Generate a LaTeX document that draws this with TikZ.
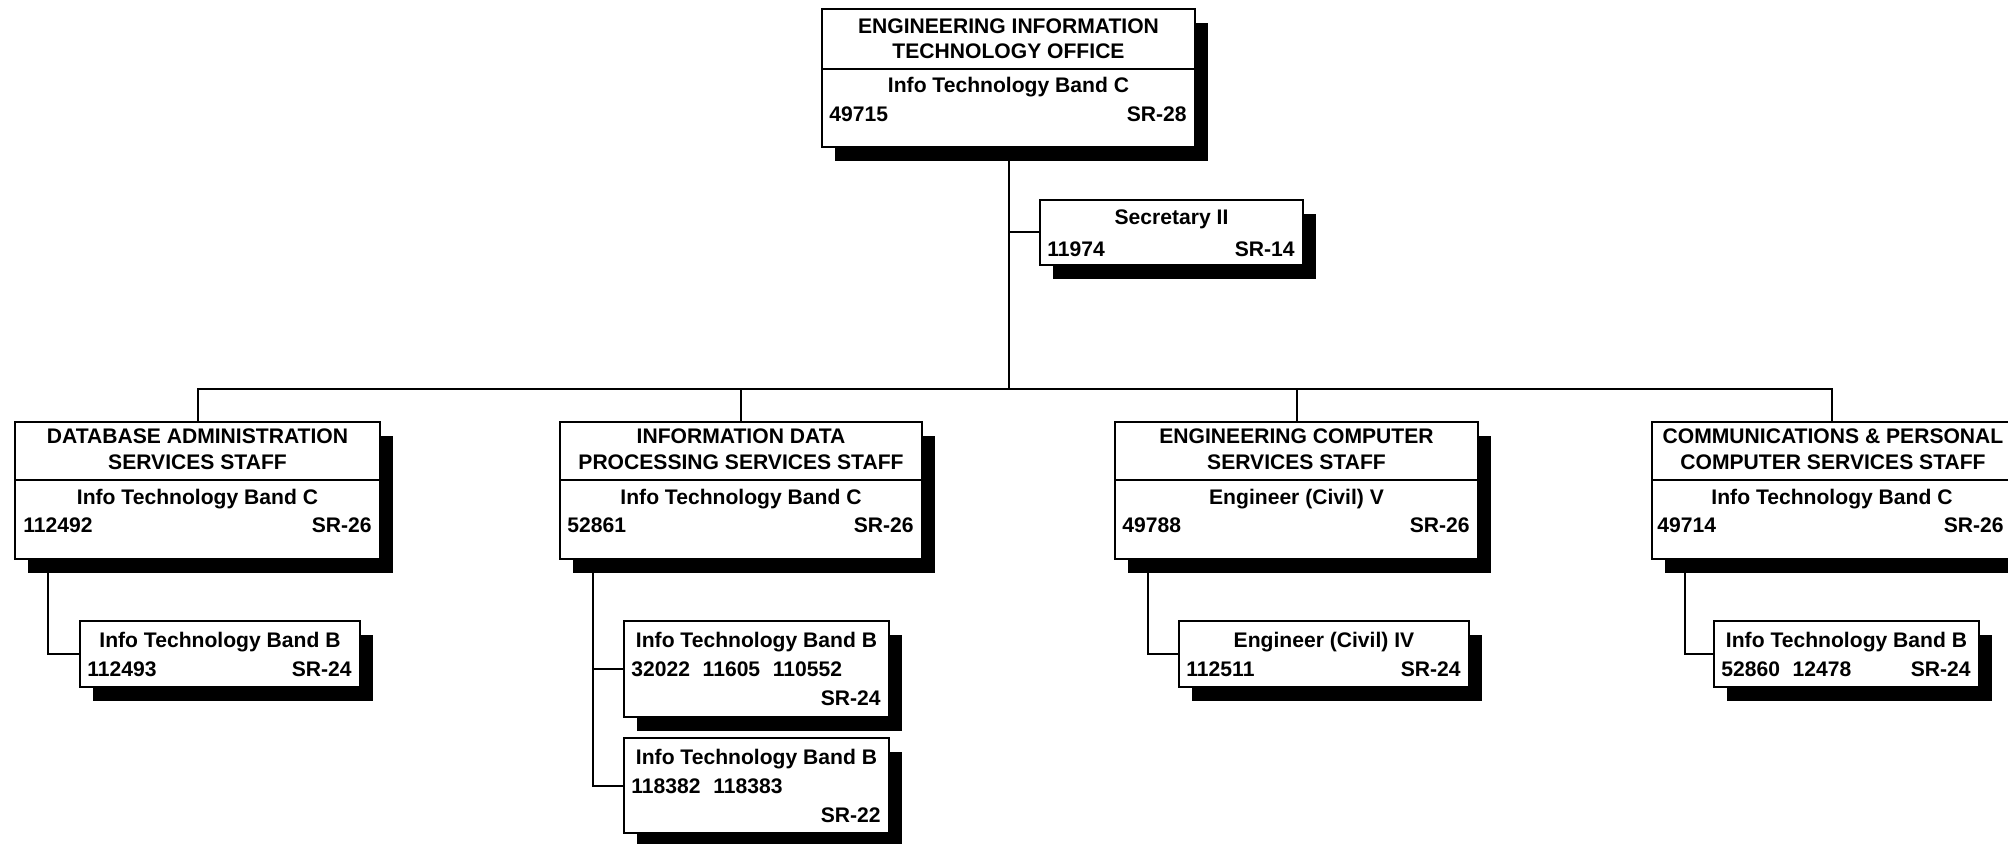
\documentclass[tikz,border=0pt]{standalone}
\usepackage{fontspec}
\setmainfont{Liberation Sans}
\usetikzlibrary{shadows}

\begin{document}
\begin{tikzpicture}[x=0.5pt, y=-0.5pt, line join=miter,
    font=\fontsize{10.55}{12}\selectfont\bfseries,
    post/.style={draw, line width=1pt, fill=white, inner sep=0pt,
      drop shadow={shadow xshift=6.5pt, shadow yshift=-7pt, fill=black, opacity=1}},
    link/.style={line width=1pt},
    txt/.style={inner sep=0pt, anchor=base},
    txtl/.style={inner sep=0pt, anchor=base west},
    txtr/.style={inner sep=0pt, anchor=base east}]

	\useasboundingbox (0,0) rectangle (2008,844);
	\clip (0,0) rectangle (2008,844);

	% Office head and secretary
	\node[post, minimum width=186.5pt, minimum height=69pt] (eito) at (1008.5,78) {};
	\node[post, minimum width=131.5pt, minimum height=32.5pt] (sec) at (1171.5,232.5) {};

	% Staff units
	\node[post, minimum width=182.5pt, minimum height=68.5pt] (dba) at (197.5,490.5) {};
	\node[post, minimum width=181pt, minimum height=68.5pt] (idp) at (741,490.5) {};
	\node[post, minimum width=181.5pt, minimum height=68.5pt] (ecs) at (1296.5,490.5) {};
	\node[post, minimum width=180pt, minimum height=68.5pt] (cpc) at (1832,490.5) {};

	% Positions under the units
	\node[post, minimum width=140pt, minimum height=33pt] (dbaB) at (220,654) {};
	\node[post, minimum width=132.5pt, minimum height=48pt] (idpB1) at (756.5,669) {};
	\node[post, minimum width=132.5pt, minimum height=47.5pt] (idpB2) at (756.5,785.5) {};
	\node[post, minimum width=145pt, minimum height=33pt] (ecsB) at (1324,654) {};
	\node[post, minimum width=132.5pt, minimum height=33pt] (cpcB) at (1846.5,654) {};

	% Dividers under the unit titles
	\draw[link] ([yshift=-30.5pt]eito.north west) -- ([yshift=-30.5pt]eito.north east);
	\foreach \n in {dba,idp,ecs,cpc}
		\draw[link] ([yshift=-29.75pt]\n.north west) -- ([yshift=-29.75pt]\n.north east);

	% Connectors
	\coordinate (bus) at (0,389);
	\draw[link] (eito.south) -- (eito.south |- bus);
	\draw[link] (eito.south |- sec.west) -- (sec.west);
	\foreach \n in {dba,idp,ecs,cpc}
		\draw[link] (eito.south |- bus) -| (\n.north);
	\draw[link] ([xshift=17pt]dba.south west) |- (dbaB.west);
	\draw[link] ([xshift=17pt]idp.south west) |- (idpB1.west);
	\draw[link] ([xshift=17pt]idp.south west) |- (idpB2.west);
	\draw[link] ([xshift=17pt]ecs.south west) |- (ecsB.west);
	\draw[link] ([xshift=17pt]cpc.south west) |- (cpcB.west);

	% Labels
	\node[txt] (eito-t1) at (1008.5,34) {ENGINEERING INFORMATION};
	\node[txt] (eito-t2) at (1008.5,58.5) {TECHNOLOGY OFFICE};
	\node[txt] (eito-b) at (1008.5,93) {Info Technology Band C};
	\node[txtl] (eito-n) at (829,122) {49715};
	\node[txtr] (eito-g) at (1187,122) {SR-28};

	\node[txt] (sec-b) at (1171.5,225) {Secretary II};
	\node[txtl] (sec-n) at (1047,256.5) {11974};
	\node[txtr] (sec-g) at (1295,256.5) {SR-14};

	\node[txt] (dba-t1) at (197.5,444) {DATABASE ADMINISTRATION};
	\node[txt] (dba-t2) at (197.5,469.5) {SERVICES STAFF};
	\node[txt] (dba-b) at (197.5,504) {Info Technology Band C};
	\node[txtl] (dba-n) at (23,532.5) {112492};
	\node[txtr] (dba-g) at (372,532.5) {SR-26};

	\node[txt] (idp-t1) at (741,444) {INFORMATION DATA};
	\node[txt] (idp-t2) at (741,469.5) {PROCESSING SERVICES STAFF};
	\node[txt] (idp-b) at (741,504) {Info Technology Band C};
	\node[txtl] (idp-n) at (567,532.5) {52861};
	\node[txtr] (idp-g) at (914,532.5) {SR-26};

	\node[txt] (ecs-t1) at (1296.5,444) {ENGINEERING COMPUTER};
	\node[txt] (ecs-t2) at (1296.5,469.5) {SERVICES STAFF};
	\node[txt] (ecs-b) at (1296.5,504) {Engineer (Civil) V};
	\node[txtl] (ecs-n) at (1122,532.5) {49788};
	\node[txtr] (ecs-g) at (1470,532.5) {SR-26};

	\node[txt] (cpc-t1) at (1833,444) {COMMUNICATIONS \& PERSONAL};
	\node[txt] (cpc-t2) at (1833,469.5) {COMPUTER SERVICES STAFF};
	\node[txt] (cpc-b) at (1832,504) {Info Technology Band C};
	\node[txtl] (cpc-n) at (1657,532.5) {49714};
	\node[txtr] (cpc-g) at (2004,532.5) {SR-26};

	\node[txt] (dbaB-b) at (220,647.5) {Info Technology Band B};
	\node[txtl] (dbaB-n) at (87,676) {112493};
	\node[txtr] (dbaB-g) at (352,676) {SR-24};

	\node[txt] (idpB1-b) at (756.5,647.5) {Info Technology Band B};
	\node[txtl] (idpB1-n) at (631,676) {32022\hspace{0.6em}11605\hspace{0.6em}110552};
	\node[txtr] (idpB1-g) at (881,705.5) {SR-24};

	\node[txt] (idpB2-b) at (756.5,764.5) {Info Technology Band B};
	\node[txtl] (idpB2-n) at (631,793) {118382\hspace{0.6em}118383};
	\node[txtr] (idpB2-g) at (881,822) {SR-22};

	\node[txt] (ecsB-b) at (1324,647.5) {Engineer (Civil) IV};
	\node[txtl] (ecsB-n) at (1186,676) {112511};
	\node[txtr] (ecsB-g) at (1461,676) {SR-24};

	\node[txt] (cpcB-b) at (1846.5,647.5) {Info Technology Band B};
	\node[txtl] (cpcB-n) at (1721,676) {52860\hspace{0.6em}12478};
	\node[txtr] (cpcB-g) at (1971,676) {SR-24};

\end{tikzpicture}
\end{document}
